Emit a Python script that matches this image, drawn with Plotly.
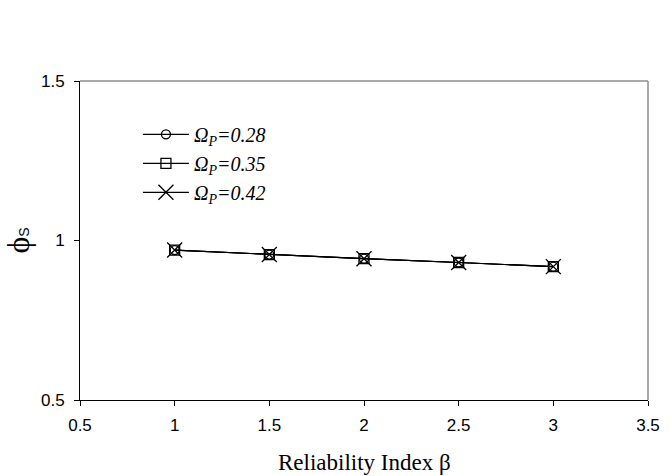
import plotly.graph_objects as go

beta = [1, 1.5, 2, 2.5, 3]
phi_028 = [0.970, 0.956, 0.943, 0.931, 0.918]
phi_035 = [0.970, 0.956, 0.943, 0.931, 0.918]
phi_042 = [0.970, 0.956, 0.943, 0.931, 0.918]
names = ["Ω<sub>P</sub>=0.28", "Ω<sub>P</sub>=0.35", "Ω<sub>P</sub>=0.42"]
series = [phi_028, phi_035, phi_042]
symbols = ["circle-open", "square-open", "x-thin-open"]
sizes = [9, 10, 15]

fig = go.Figure()
for nm, ys, sym, sz in zip(names, series, symbols, sizes):
    fig.add_trace(go.Scatter(
        x=beta, y=ys, name=nm, mode="lines+markers",
        line=dict(color="black", width=1.2),
        marker=dict(symbol=sym, size=sz, color="black",
                    line=dict(color="black", width=1.3)),
    ))

fig.update_layout(
    width=670, height=476,
    margin=dict(l=80, r=22, t=81, b=76, autoexpand=False),
    plot_bgcolor="white", paper_bgcolor="white",
    showlegend=True,
    legend=dict(x=0.102, y=0.894, xanchor="left", yanchor="top",
                bgcolor="rgba(0,0,0,0)",
                font=dict(family="Liberation Serif", size=20, color="black", style="italic"),
                tracegroupgap=0, itemwidth=46),
    xaxis=dict(range=[0.5, 3.5], tickvals=[0.5, 1, 1.5, 2, 2.5, 3, 3.5],
               ticktext=["0.5", "1", "1.5", "2", "2.5", "3", "3.5"],
               showline=True, linecolor="black", linewidth=1,
               ticks="outside", ticklen=5, tickcolor="black",
               ticklabelstandoff=5,
               showgrid=False, zeroline=False, automargin=False,
               tickfont=dict(family="Liberation Sans", size=17, color="black")),
    yaxis=dict(range=[0.5, 1.5], tickvals=[0.5, 1, 1.5],
               ticktext=["0.5", "1", "1.5"],
               showline=True, linecolor="black", linewidth=1,
               ticks="outside", ticklen=5, tickcolor="black",
               ticklabelstandoff=6,
               showgrid=False, zeroline=False, automargin=False,
               tickfont=dict(family="Liberation Sans", size=17, color="black")),
    annotations=[
        dict(text="Reliability Index β", xref="paper", yref="paper",
             x=0.5, y=0, xanchor="center", yanchor="middle", yshift=-62,
             showarrow=False,
             font=dict(family="Liberation Serif", size=23, color="black")),
        dict(text="<span style='font-size:32px;font-family:Liberation Serif'>ϕ</span><span style='font-size:14px'>S</span>",
             xref="paper", yref="paper", x=0, y=0.5, xanchor="center", yanchor="middle",
             xshift=-63, textangle=-90, showarrow=False,
             font=dict(family="Liberation Sans", size=14, color="black")),
    ],
    shapes=[
        dict(type="line", xref="paper", yref="paper", x0=0, x1=1, y0=1, y1=1,
             line=dict(color="#8c8c8c", width=1.5)),
        dict(type="line", xref="paper", yref="paper", x0=1, x1=1, y0=0, y1=1,
             line=dict(color="#8c8c8c", width=1.5)),
    ],
)

fig.write_html("out.html")
